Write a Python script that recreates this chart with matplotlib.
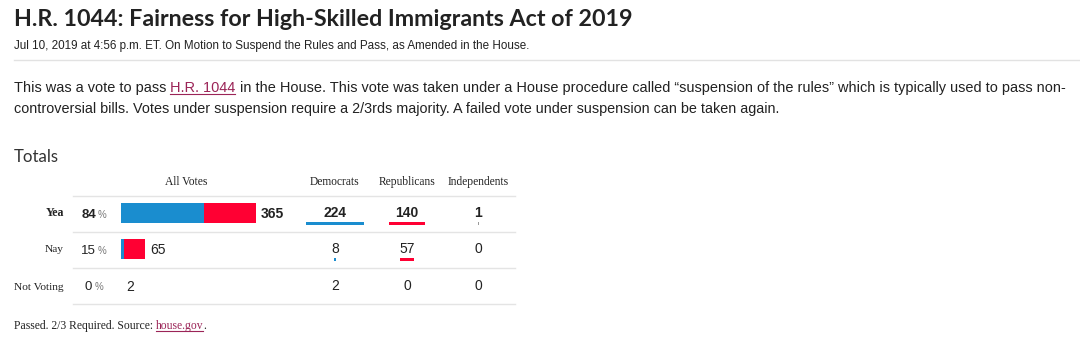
import matplotlib
matplotlib.use("Agg")
import matplotlib.pyplot as plt

# vote data
rows = ["Yea", "Nay", "Not Voting"]
percent = [84, 15, 0]
totals = [365, 65, 2]
democrats = [224, 8, 2]
republicans = [140, 57, 0]
independents = [1, 0, 0]
columns = ["Democrats", "Republicans", "Independents"]

title = "H.R. 1044: Fairness for High-Skilled Immigrants Act of 2019"
subtitle = ("Jul 10, 2019 at 4:56 p.m. ET. On Motion to Suspend the Rules and Pass, "
            "as Amended in the House.")
para1 = [("This was a vote to pass ", False), ("H.R. 1044", True),
         (" in the House. This vote was taken under a House procedure called \u201csuspension "
          "of the rules\u201d which is typically used to pass non-", False)]
para2 = [("controversial bills. Votes under suspension require a 2/3rds majority. "
          "A failed vote under suspension can be taken again.", False)]
footer = [("Passed. 2/3 Required. Source: ", False), ("house.gov", True), (".", False)]

BLUE = "#1a8dcf"
RED = "#ff0033"
GREY = "#9a9a9a"
LINK = "#9b2457"
INK = "#222222"
SANS = "Liberation Sans"
SERIF = "Liberation Serif"

fig = plt.figure(figsize=(10.8, 3.52), dpi=100)
ax = fig.add_axes([0, 0, 1, 1])
ax.set_xlim(0, 1080)
ax.set_ylim(352, 0)
ax.axis("off")
rend = fig.canvas.get_renderer()


def wid(t):
    return t.get_window_extent(rend).width


def measure(s, size, family, **kw):
    # width of a string as it starts a line (pad with 'x' so spaces count)
    t = ax.text(0, 0, s + "x", fontsize=size, family=family, **kw)
    r = ax.text(0, 0, "x", fontsize=size, family=family, **kw)
    w = wid(t) - wid(r)
    t.remove()
    r.remove()
    return w


def put(x, y, parts, width=None, size=10, family=SANS, color=INK, **kw):
    # draw text pieces one after the other, optionally scaled to a given width
    full = "".join(s for s, _ in parts)
    if width:
        size = size * width / measure(full, size, family, **kw)
    done = ""
    for s, link in parts:
        x1 = x + measure(done, size, family, **kw)
        ax.text(x1, y, s, fontsize=size, family=family,
                color=LINK if link else color, va="baseline", **kw)
        if link:
            x2 = x1 + measure(s, size, family, **kw)
            ax.plot([x1, x2 - 1], [y + 2, y + 2], color=LINK, lw=0.8)
        done += s


# header
put(14, 26, [(title, False)], width=620, size=15, family="Lato", weight="bold")
put(14, 49, [(subtitle, False)], width=510, size=7.5)
ax.plot([14, 1080], [60, 60], color="#e2e2e2", lw=1)
put(14, 92, para1, width=1048, size=10)
put(14, 113, para2, width=768, size=10)
put(14, 162, [("Totals", False)], width=45, size=11.5, family="Lato", color="#333333")

# table
row_y = [213, 249, 286]
sep_y = [196, 232, 268, 304]
col_x = [335, 407, 478]
x0 = 121
scale = 135 / 365
mini = 0.258

for y in sep_y:
    ax.plot([73, 515], [y, y], color="#e4e4e4", lw=1)

ax.text(186, 185, "All Votes", family=SERIF, fontsize=8.3, color=INK, ha="center", va="baseline")
for cx, name in zip(col_x, columns):
    ax.text(cx, 185, name, family=SERIF, fontsize=8.3, color=INK, ha="center", va="baseline")

for i, y in enumerate(row_y):
    bold = "bold" if i == 0 else "normal"
    ax.text(64, y + 3.5, rows[i], family=SERIF, fontsize=8.6 if i == 0 else 8.2,
            weight=bold, color=INK, ha="right", va="baseline")

    # percentage, centred as a group
    n = ax.text(0, y + 4.5, str(percent[i]), family=SANS, fontsize=9.5, weight=bold,
                color=INK, va="baseline")
    p = ax.text(0, y + 4.5, "%", family=SANS, fontsize=7, color="#777777", va="baseline")
    gw = wid(n) + 2 + wid(p)
    n.set_x(94 - gw / 2)
    p.set_x(94 - gw / 2 + wid(n) + 2)

    # stacked bar of all votes
    end = x0
    if i < 2:
        ax.barh(y, democrats[i] * scale, left=x0, height=20, color=BLUE)
        ax.barh(y, republicans[i] * scale, left=x0 + democrats[i] * scale, height=20, color=RED)
        ax.barh(y, independents[i] * scale,
                left=x0 + (democrats[i] + republicans[i]) * scale, height=20, color=GREY)
        end = x0 + totals[i] * scale
    ax.text(end + 5, y + 5, str(totals[i]), family=SANS, fontsize=10, weight=bold,
            color=INK, va="baseline")

    # party columns
    for cx, vals, c in zip(col_x, [democrats, republicans, independents], [BLUE, RED, GREY]):
        v = vals[i]
        ax.text(cx, y + 4, str(v), family=SANS, fontsize=10, weight=bold,
                color=INK, ha="center", va="baseline")
        if v and i < 2:
            w = max(v * mini, 1)
            ax.barh(y + 10.5, w, left=cx - w / 2, height=3.5, color=c)

put(14, 329, footer, width=191, size=8, family=SERIF)

fig.savefig("out.png", dpi=100)
